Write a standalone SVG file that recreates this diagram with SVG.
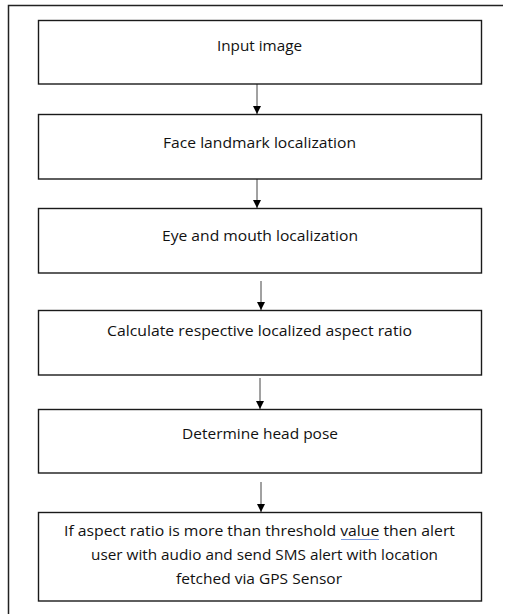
<svg xmlns="http://www.w3.org/2000/svg" width="508" height="614" viewBox="0 0 508 614">
<style>
.box{fill:#fff;stroke:#1a1a1a;stroke-width:1.4}
.t{font-family:"Open Sans","Liberation Sans",sans-serif;font-size:15px;fill:#111;text-anchor:middle;dominant-baseline:central}
.c{stroke:#444;stroke-width:1;fill:none}
</style>
<defs>
<marker id="ah" markerWidth="8" markerHeight="8" refX="8" refY="4" orient="auto" markerUnits="userSpaceOnUse">
<path d="M0,0 L8,4 L0,8 Z" fill="#000"/>
</marker>
</defs>
<rect width="508" height="614" fill="#fff"/>
<g id="frame">
<path d="M8.5,614 L8.5,5.5 L503,5.5" fill="none" stroke="#222" stroke-width="1.5"/>
</g>
<g id="connectors">
<line class="c" x1="257" y1="84" x2="257" y2="114" marker-end="url(#ah)"/>
<line class="c" x1="257" y1="179" x2="257" y2="208" marker-end="url(#ah)"/>
<line class="c" x1="261" y1="281" x2="261" y2="310" marker-end="url(#ah)"/>
<line class="c" x1="260" y1="378" x2="260" y2="409" marker-end="url(#ah)"/>
<line class="c" x1="261" y1="482" x2="261" y2="512" marker-end="url(#ah)"/>
</g>
<g id="n1"><rect class="box" x="38.5" y="20.5" width="443" height="63.5"/><text class="t" x="259.5" y="45" textLength="85" lengthAdjust="spacingAndGlyphs">Input image</text></g>
<g id="n2"><rect class="box" x="38.5" y="114.5" width="443" height="64.5"/><text class="t" x="259.5" y="142" textLength="193" lengthAdjust="spacingAndGlyphs">Face landmark localization</text></g>
<g id="n3"><rect class="box" x="38.5" y="208.5" width="443" height="64.5"/><text class="t" x="260" y="235" textLength="196" lengthAdjust="spacingAndGlyphs">Eye and mouth localization</text></g>
<g id="n4"><rect class="box" x="38.5" y="310.5" width="443" height="64.5"/><text class="t" x="259.5" y="330" textLength="305" lengthAdjust="spacingAndGlyphs">Calculate respective localized aspect ratio</text></g>
<g id="n5"><rect class="box" x="38.5" y="409.5" width="443" height="63.5"/><text class="t" x="260" y="433" textLength="156" lengthAdjust="spacingAndGlyphs">Determine head pose</text></g>
<g id="n6"><rect class="box" x="38.5" y="512.5" width="443" height="88.5"/>
<text class="t" x="259.5" y="530" textLength="391" lengthAdjust="spacingAndGlyphs">If aspect ratio is more than threshold value then alert</text>
<text class="t" x="264.5" y="554" textLength="347" lengthAdjust="spacingAndGlyphs">user with audio and send SMS alert with location</text>
<text class="t" x="259" y="578" textLength="166" lengthAdjust="spacingAndGlyphs">fetched via GPS Sensor</text>
<line x1="341" y1="539.5" x2="379" y2="539.5" stroke="#7a9be0" stroke-width="1"/>
</g>
</svg>
